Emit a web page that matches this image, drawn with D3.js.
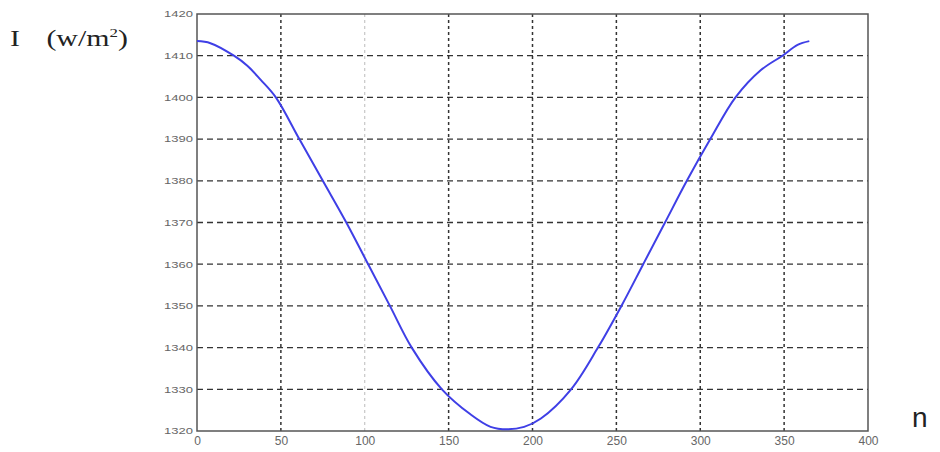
<!DOCTYPE html>
<html>
<head>
<meta charset="utf-8">
<script src="https://cdn.jsdelivr.net/npm/d3@7"></script>
<style>
  body { margin: 0; background: #fff; }
  svg { display: block; }
</style>
</head>
<body>
<div id="chart"></div>
<script>
// day of year
var days = [0, 8, 22, 30, 38, 47, 61, 75, 89, 102, 115, 128, 146, 163, 175, 185,
            195, 205, 223, 239, 253, 266, 279, 292, 306, 321, 336, 349, 358, 365];
// irradiance (w/m2)
var irr = [1413.5, 1413, 1410, 1407.6, 1404.2, 1400, 1390, 1380, 1370, 1360, 1350, 1340, 1330, 1324, 1321, 1320.4,
           1321, 1323, 1330, 1340, 1350, 1360, 1370, 1380, 1390, 1400, 1406.5, 1410, 1412.6, 1413.5];

var xTicks = [0, 50, 100, 150, 200, 250, 300, 350, 400];
var yTicks = [1320, 1330, 1340, 1350, 1360, 1370, 1380, 1390, 1400, 1410, 1420];

var W = 940, H = 452;
var margin = {top: 14, right: 72, bottom: 21, left: 197},
    width = W - margin.left - margin.right,
    height = H - margin.top - margin.bottom;

var svg = d3.select("#chart").append("svg")
    .attr("width", W)
    .attr("height", H);

var g = svg.append("g")
    .attr("transform", "translate(" + margin.left + "," + margin.top + ")");

var x = d3.scaleLinear().domain([0, 400]).range([0, width]);
var y = d3.scaleLinear().domain([1320, 1420]).range([height, 0]);

// grid
g.selectAll("line.hgrid")
    .data(yTicks.slice(1, -1))
  .enter().append("line")
    .attr("class", "hgrid")
    .attr("x1", 0).attr("x2", width)
    .attr("y1", function(d) { return y(d); })
    .attr("y2", function(d) { return y(d); })
    .attr("stroke", "#333")
    .attr("stroke-width", 1.3)
    .attr("stroke-dasharray", "6,4");

g.selectAll("line.vgrid")
    .data(xTicks.slice(1, -1))
  .enter().append("line")
    .attr("class", "vgrid")
    .attr("y1", 0).attr("y2", height)
    .attr("x1", function(d) { return x(d); })
    .attr("x2", function(d) { return x(d); })
    .attr("stroke", function(d) { return d === 100 ? "#aaa" : "#333"; })
    .attr("stroke-width", function(d) { return d === 100 ? 0.8 : 1.5; })
    .attr("stroke-dasharray", "3,3");

// axes
var yAxis = g.append("g")
    .call(d3.axisLeft(y).tickValues(yTicks).tickFormat(d3.format("d")).tickSize(0).tickPadding(4));
yAxis.select(".domain").remove();
yAxis.selectAll("text")
    .attr("font-family", "Liberation Sans, Arial, sans-serif")
    .attr("font-size", 9)
    .attr("fill", "#666")
    .attr("textLength", 29)
    .attr("lengthAdjust", "spacingAndGlyphs");

var xAxis = g.append("g")
    .attr("transform", "translate(0," + height + ")")
    .call(d3.axisBottom(x).tickValues(xTicks).tickFormat(d3.format("d")).tickSize(0).tickPadding(5));
xAxis.select(".domain").remove();
xAxis.selectAll("text")
    .attr("font-family", "Liberation Sans, Arial, sans-serif")
    .attr("font-size", 12)
    .attr("fill", "#666");

// box
g.append("rect")
    .attr("width", width)
    .attr("height", height)
    .attr("fill", "none")
    .attr("stroke", "#555")
    .attr("stroke-width", 1.5);

// curve
var line = d3.line()
    .x(function(d, i) { return x(days[i]); })
    .y(function(d) { return y(d); })
    .curve(d3.curveCatmullRom.alpha(0.5));

g.append("path")
    .datum(irr)
    .attr("d", line)
    .attr("fill", "none")
    .attr("stroke", "#3f3fe6")
    .attr("stroke-width", 2);

// labels
var yl = svg.append("text")
    .attr("transform", "translate(10,46) scale(1.3,1)")
    .attr("font-family", "Liberation Serif, Times New Roman, serif")
    .attr("font-size", 23)
    .attr("fill", "#222");
yl.append("tspan").text("I");
yl.append("tspan").attr("x", 28).text("(w/m");
yl.append("tspan").attr("dy", -9).attr("font-size", 13).text("2");
yl.append("tspan").attr("dy", 9).text(")");

svg.append("text")
    .attr("x", 912)
    .attr("y", 427)
    .attr("font-family", "Liberation Sans, Arial, sans-serif")
    .attr("font-size", 28)
    .attr("fill", "#222")
    .text("n");
</script>
</body>
</html>
